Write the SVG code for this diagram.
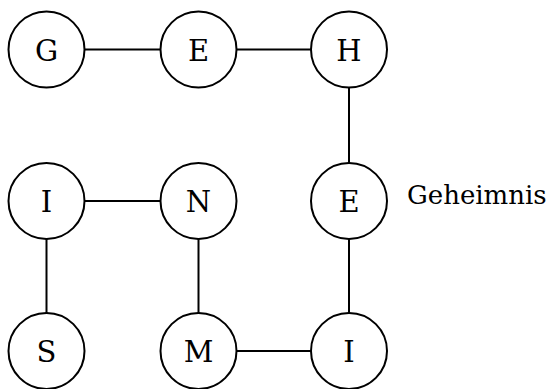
<svg xmlns="http://www.w3.org/2000/svg" width="553" height="389" viewBox="0 0 553 389">
<style>
circle{fill:#fff;stroke:#000;stroke-width:2}
line{stroke:#000;stroke-width:2}
.t{font-family:'DejaVu Serif',serif;font-size:29px;fill:#000;text-anchor:middle}
.l{font-family:'DejaVu Serif',serif;font-size:26px;fill:#000}
</style>
<rect width="553" height="389" fill="#fff"/>
<g id="edges">
<line x1="85" y1="49.5" x2="160" y2="49.5"/>
<line x1="237" y1="49.5" x2="311" y2="49.5"/>
<line x1="349" y1="87.5" x2="349" y2="163"/>
<line x1="349" y1="239" x2="349" y2="313"/>
<line x1="237" y1="351" x2="311" y2="351"/>
<line x1="198.5" y1="313" x2="198.5" y2="239"/>
<line x1="160" y1="201" x2="85" y2="201"/>
<line x1="46.5" y1="239" x2="46.5" y2="313"/>
</g>
<g id="G"><circle cx="46.5" cy="49.5" r="38"/><text class="t" x="46.5" y="60.5">G</text></g>
<g id="E1"><circle cx="198.5" cy="49.5" r="38"/><text class="t" x="198.5" y="60.5">E</text></g>
<g id="H"><circle cx="349" cy="49.5" r="38"/><text class="t" x="349" y="60.5">H</text></g>
<g id="I1"><circle cx="46.5" cy="201" r="38"/><text class="t" x="46.5" y="212">I</text></g>
<g id="N"><circle cx="198.5" cy="201" r="38"/><text class="t" x="198.5" y="212">N</text></g>
<g id="E2"><circle cx="349" cy="201" r="38"/><text class="t" x="349" y="212">E</text></g>
<g id="S"><circle cx="46.5" cy="351" r="38"/><text class="t" x="46.5" y="362">S</text></g>
<g id="M"><circle cx="198.5" cy="351" r="38"/><text class="t" x="198.5" y="362">M</text></g>
<g id="I2"><circle cx="349" cy="351" r="38"/><text class="t" x="349" y="362">I</text></g>
<g id="label"><text class="l" x="407" y="203.5">Geheimnis</text></g>
</svg>
